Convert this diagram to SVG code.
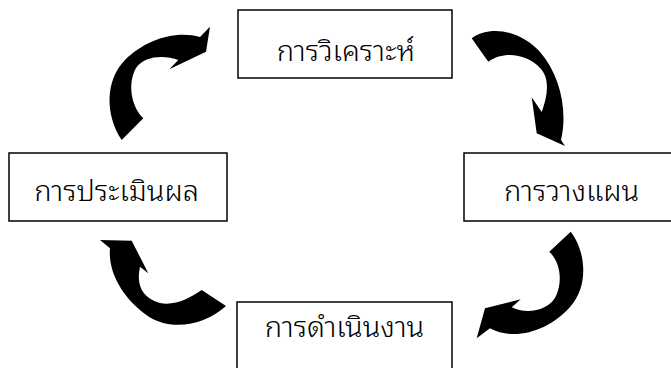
<svg xmlns="http://www.w3.org/2000/svg" width="671" height="368" viewBox="0 0 671 368">
<style>
.box{fill:#fff;stroke:#000;stroke-width:1.5}
.lbl{font-family:"Noto Sans Thai Looped","Noto Sans Thai","Noto Sans","DejaVu Sans",sans-serif;font-size:29px;font-weight:300;fill:#000;text-anchor:middle}
.arr{fill:#000;stroke:none}
</style>
<rect width="671" height="368" fill="#fff"/>
<g id="connectors">
<path class="arr" d="M121.7,140 C105,115 105,80 125,60 C145,40 175,30 200,37 L210,26.7 L206,51.7 L169.3,69.3 L178.3,60 C165,55 145,55 136,68 C128,82 130,105 143.3,118.3 Z"/>
<path class="arr" d="M471.7,38.3 C490,25 520,30 540,52 C560,75 568,110 561,140 L565,146 L536.7,133.3 L531.7,97.3 L541.7,111.9 C548,95 550,78 540,68 C528,55 505,50 488.3,61.7 Z"/>
<path class="arr" d="M570.7,231.7 C585,250 590,285 570,307 C550,330 515,342 490,328.3 L476.7,338.3 L485,308.3 L520.7,299.3 L511.7,307.3 C525,314 548,312 556,296 C563,280 560,262 549.3,251.7 Z"/>
<path class="arr" d="M226,306 C205,325 170,333 145,314 C120,295 108,270 110,248.3 L100,240 L131.7,240.7 L148.3,273.3 L140,266.7 C136,285 142,298 160,303 C175,306 190,298 201.7,290 Z"/>
</g>
<g id="n-analysis">
<rect class="box" x="238" y="10" width="214" height="68"/>
<text class="lbl" x="346" y="61">การวิเคราะห์</text>
</g>
<g id="n-planning">
<rect class="box" x="464" y="153" width="212" height="68"/>
<text class="lbl" x="571.5" y="201">การวางแผน</text>
</g>
<g id="n-operation">
<rect class="box" x="237" y="302" width="215" height="72"/>
<text class="lbl" x="344.5" y="337">การดำเนินงาน</text>
</g>
<g id="n-evaluation">
<rect class="box" x="9" y="153" width="218" height="68"/>
<text class="lbl" x="116.5" y="201">การประเมินผล</text>
</g>
</svg>
